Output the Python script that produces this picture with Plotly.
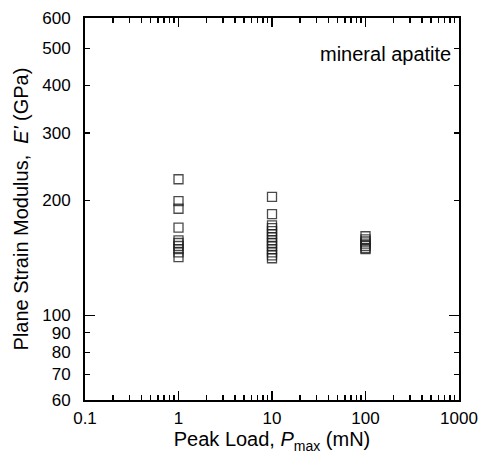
import plotly.graph_objects as go

# Data
load_1mN = [227, 199, 190, 169.5, 157, 154.6, 151.8, 149, 146, 142]
load_10mN = [204, 184, 172, 169, 166, 163, 160, 157, 154.6, 151.8, 149, 146, 143.5, 141]
load_100mN = [161, 158, 156, 154, 152, 150, 149]

x_vals = [1] * len(load_1mN) + [10] * len(load_10mN) + [100] * len(load_100mN)
y_vals = load_1mN + load_10mN + load_100mN

x_ticks = [0.1, 1, 10, 100, 1000]
x_ticktext = ["0.1", "1", "10", "100", "1000"]
y_ticks = [60, 70, 80, 90, 100, 200, 300, 400, 500, 600]
y_ticktext = [str(v) for v in y_ticks]
x_minor = [m * 10 ** e for e in range(-1, 3) for m in range(2, 10)]

FONT = "Liberation Sans, Arial, sans-serif"

fig = go.Figure()
fig.add_trace(go.Scatter(
    x=x_vals, y=y_vals, mode="markers",
    marker=dict(symbol="square-open", size=9, color="rgba(30,30,30,0.8)",
                line=dict(width=1.3)),
    showlegend=False,
))

fig.update_layout(
    width=482, height=454,
    margin=dict(l=85, r=23, t=18, b=54),
    paper_bgcolor="white", plot_bgcolor="white",
    font=dict(family=FONT, size=17, color="black"),
    xaxis=dict(
        type="log", range=[-1, 3], automargin=False,
        tickmode="array", tickvals=x_ticks, ticktext=x_ticktext,
        ticks="inside", ticklen=9, tickwidth=1.5, tickcolor="black",
        ticklabelstandoff=2,
        showline=True, linewidth=2, linecolor="black", mirror="ticks",
        showgrid=False, zeroline=False,
        minor=dict(tickmode="array", tickvals=x_minor, ticks="inside",
                   ticklen=5, tickwidth=1.5, tickcolor="black", showgrid=False),
        title=dict(text="Peak Load, <i>P</i><sub>max</sub> (mN)",
                   font=dict(size=20), standoff=2),
        tickfont=dict(size=17),
    ),
    yaxis=dict(
        type="log", range=[1.778151, 2.778151], automargin=False,
        tickmode="array", tickvals=y_ticks, ticktext=y_ticktext,
        ticks="inside", ticklen=5, tickwidth=1.5, tickcolor="black",
        ticklabelstandoff=9,
        showline=True, linewidth=2, linecolor="black", mirror="ticks",
        showgrid=False, zeroline=False,
        minor=dict(tickmode="array", tickvals=[100], ticks="inside",
                   ticklen=10, tickwidth=1.5, tickcolor="black", showgrid=False),
        title=dict(text="Plane Strain Modulus,  <i>E'</i> (GPa)",
                   font=dict(size=20), standoff=8),
        tickfont=dict(size=17),
    ),
    annotations=[dict(
        x=0.985, y=0.905, xref="paper", yref="paper",
        xanchor="right", yanchor="middle",
        text="mineral apatite", showarrow=False,
        font=dict(size=20, family=FONT),
    )],
)

fig.write_html(
    "out.html",
    config={"displayModeBar": False, "staticPlot": True},
    post_script="document.body.style.margin='0';document.body.style.overflow='hidden';",
)
